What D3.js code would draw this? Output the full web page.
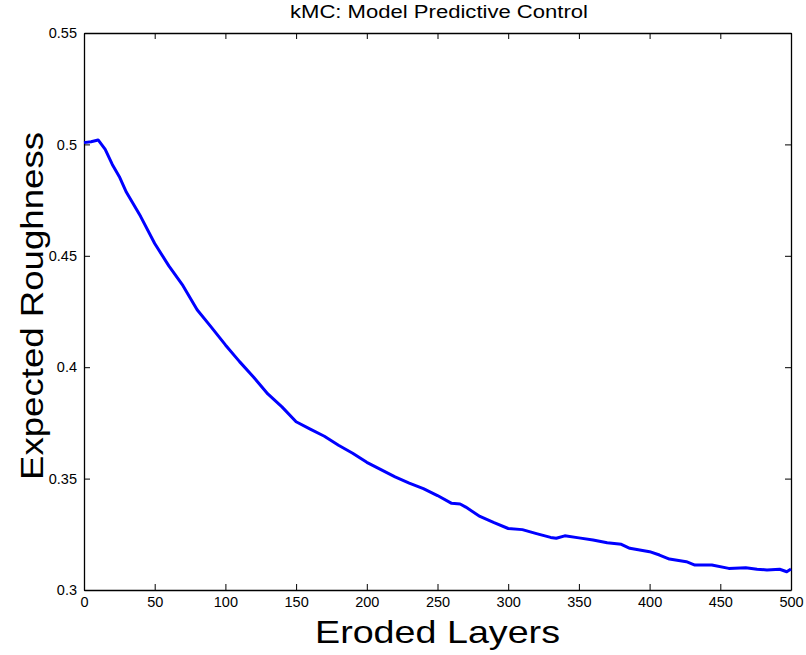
<!doctype html>
<html lang="en">
<head>
<meta charset="utf-8" />
<title>kMC: Model Predictive Control</title>
<style>
  html, body { margin: 0; padding: 0; background: #fff; }
  svg { display: block; font-family: "Liberation Sans", Arial, sans-serif; }
  .tick text { font-size: 14.5px; fill: #000; }
  .tick line, .domain { stroke: #000; }
</style>
</head>
<body>
<svg id="chart" width="806" height="655"></svg>
<script src="https://cdn.jsdelivr.net/npm/d3@7/dist/d3.min.js"></script>
<script>
// values
const layers = [0, 5, 10, 15, 20, 25, 30, 40, 50, 60, 70, 80, 90, 100, 110, 120, 130, 140, 150,
  160, 170, 180, 190, 200, 210, 220, 230, 240, 250, 260, 266, 270, 280, 290, 300, 310, 320, 330,
  334, 340, 350, 360, 370, 380, 386, 400, 407, 414, 426, 432, 444, 456, 468, 476, 483, 492, 497, 500];
const roughness = [0.5008, 0.5012, 0.5020, 0.4978, 0.4910, 0.4855, 0.4785, 0.4677, 0.4555, 0.4455,
  0.4366, 0.4258, 0.4180, 0.4100, 0.4025, 0.3955, 0.3880, 0.3822, 0.3755, 0.3722, 0.3690, 0.3650,
  0.3614, 0.3573, 0.3540, 0.3508, 0.3480, 0.3455, 0.3424, 0.3389, 0.3386, 0.3372, 0.3330, 0.3302,
  0.3276, 0.3271, 0.3253, 0.3236, 0.3232, 0.3243, 0.3234, 0.3224, 0.3212, 0.3205, 0.3187, 0.3172,
  0.3157, 0.3139, 0.3127, 0.3112, 0.3112, 0.3097, 0.3100, 0.3093, 0.3090, 0.3093, 0.3082, 0.3094];
const xTicks = [0, 50, 100, 150, 200, 250, 300, 350, 400, 450, 500];
const yTicks = [0.3, 0.35, 0.4, 0.45, 0.5, 0.55];

const m = { left: 84, top: 33, right: 791, bottom: 590 };
const svg = d3.select('#chart');

const x = d3.scaleLinear().domain([0, 500]).range([m.left, m.right]);
const y = d3.scaleLinear().domain([0.3, 0.55]).range([m.bottom, m.top]);
const fmt = d => String(+d.toFixed(2));

// inward ticks on all four sides
svg.append('g').attr('transform', `translate(0,${m.bottom})`)
  .call(d3.axisBottom(x).tickValues(xTicks).tickSizeInner(-6).tickSizeOuter(0).tickPadding(12).tickFormat(fmt))
  .call(g => g.selectAll('text').attr('dy', '0.35em'));
svg.append('g').attr('transform', `translate(0,${m.top})`)
  .call(d3.axisTop(x).tickValues(xTicks).tickSizeInner(-6).tickSizeOuter(0).tickFormat(''));
svg.append('g').attr('transform', `translate(${m.left},0)`)
  .call(d3.axisLeft(y).tickValues(yTicks).tickSizeInner(-6).tickSizeOuter(0).tickPadding(7).tickFormat(fmt));
svg.append('g').attr('transform', `translate(${m.right},0)`)
  .call(d3.axisRight(y).tickValues(yTicks).tickSizeInner(-6).tickSizeOuter(0).tickFormat(''));

svg.selectAll('.domain').attr('stroke-width', 1.3);
svg.selectAll('.tick line').attr('stroke-width', 1);

const line = d3.line().x((d, i) => x(layers[i])).y(d => y(d)).curve(d3.curveLinear);
svg.append('path').datum(roughness)
  .attr('d', line).attr('fill', 'none').attr('stroke', '#0000ff')
  .attr('stroke-width', 3).attr('stroke-linejoin', 'round');

// the original text is a wider Helvetica, so stretch to its measured widths
svg.append('text').attr('x', 439).attr('y', 18)
  .attr('text-anchor', 'middle').attr('font-size', 18)
  .attr('textLength', 298).attr('lengthAdjust', 'spacingAndGlyphs')
  .text('kMC: Model Predictive Control');
svg.append('text').attr('x', 437.5).attr('y', 643)
  .attr('text-anchor', 'middle').attr('font-size', 32)
  .attr('textLength', 245).attr('lengthAdjust', 'spacingAndGlyphs')
  .text('Eroded Layers');
svg.append('text').attr('transform', 'translate(43,306) rotate(-90)')
  .attr('text-anchor', 'middle').attr('font-size', 31)
  .attr('textLength', 348).attr('lengthAdjust', 'spacingAndGlyphs')
  .text('Expected Roughness');
</script>
</body>
</html>
